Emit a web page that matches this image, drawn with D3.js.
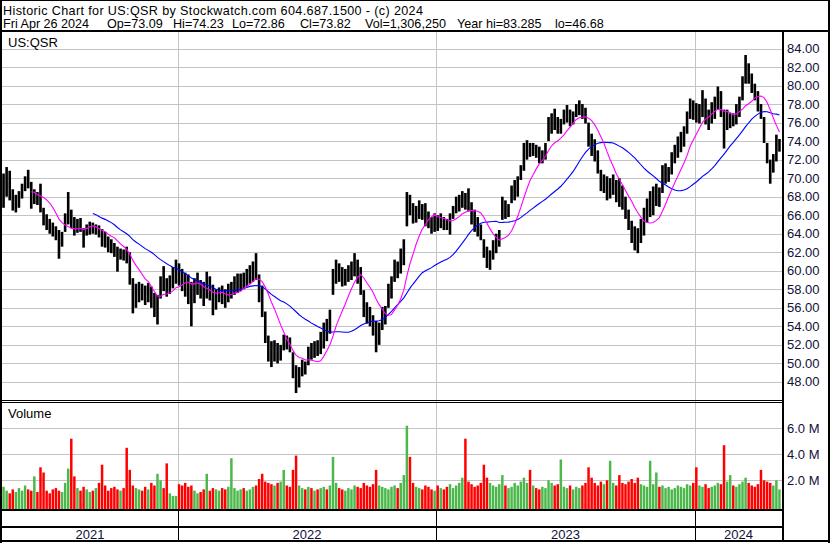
<!DOCTYPE html>
<html><head><meta charset="utf-8">
<script src="https://cdn.jsdelivr.net/npm/d3@7"></script>
<style>body{margin:0;background:#fff}svg{display:block}text{font-family:"Liberation Sans",Arial,sans-serif;font-size:13px}</style>
</head><body><svg id="c" width="830" height="543"></svg>
<script>
// ---- data (each point ~3 trading days) ----
const high=[70.5,71.2,70.8,68.8,68.2,68.6,69.4,70.2,70.9,69.6,
68.8,68.5,69.4,66.8,66.1,65.6,65.2,64.8,64.4,64.2,
66.2,68.5,66.6,65.8,65.6,65.7,64.6,65.0,65.3,65.2,
65.0,64.9,64.5,64.2,63.7,63.4,63.0,62.6,62.4,62.3,
62.6,62.0,59.2,58.6,58.8,58.6,58.4,58.7,58.3,57.6,
57.4,59.4,60.5,59.2,59.5,60.4,61.2,60.8,60.2,59.8,
59.6,58.8,59.2,59.8,59.0,58.8,59.9,59.4,58.5,58.0,
58.2,58.4,58.0,58.6,58.8,59.4,59.7,59.7,59.8,60.2,
60.6,61.0,61.9,59.6,58.4,55.6,53.0,52.4,52.5,52.2,
52.0,53.1,53.0,52.8,51.2,49.8,49.6,50.4,50.2,51.8,
52.2,52.4,52.5,53.4,54.4,54.8,55.8,60.2,61.2,60.8,
60.4,60.2,60.6,61.0,61.9,61.2,60.4,57.9,56.6,56.1,
55.2,54.6,54.4,56.1,56.2,58.6,59.4,61.2,61.0,62.4,
63.4,68.5,68.2,67.3,67.0,67.6,67.2,67.3,66.4,65.8,
66.2,66.0,66.2,65.8,65.6,66.2,67.0,68.0,68.2,68.6,
68.4,68.9,67.4,66.6,65.8,65.0,63.4,62.6,62.2,63.3,
64.0,64.4,68.0,67.6,67.2,69.2,69.8,70.2,71.4,73.8,
74.1,73.8,73.8,73.6,73.4,73.0,73.8,76.6,77.0,77.5,
76.6,76.4,77.4,77.9,77.4,77.2,78.0,78.4,78.0,77.6,
76.0,74.8,74.2,73.0,70.9,70.4,70.2,70.0,70.4,69.8,
70.0,69.2,68.0,66.6,65.4,64.8,64.6,65.6,66.8,67.8,
68.6,69.1,69.4,69.0,71.4,71.6,71.2,72.8,73.6,74.5,
75.0,75.6,77.2,78.6,78.4,78.1,78.0,79.5,78.6,77.4,
78.2,78.8,79.9,79.4,77.4,77.4,77.0,77.0,78.0,78.8,
81.0,83.3,82.4,81.3,80.2,79.4,78.0,76.6,73.8,72.0,
72.6,74.7,74.23];
const low=[66.8,68.0,67.6,66.5,66.3,66.8,67.8,68.6,68.9,66.7,
67.2,67.1,66.3,64.9,64.4,64.0,63.7,63.3,61.3,62.6,
64.2,65.0,64.6,63.8,64.1,64.2,62.5,63.8,63.9,64.0,
63.9,63.6,62.6,62.5,62.0,61.9,61.5,59.9,61.2,61.1,
60.8,58.5,55.4,56.0,56.6,56.8,56.3,56.6,56.0,55.0,
54.2,57.0,57.8,57.2,57.5,58.1,58.6,58.4,57.8,57.2,
56.4,54.0,56.5,57.4,57.0,56.2,57.0,56.8,55.2,55.8,
56.6,56.4,56.0,56.6,57.0,57.4,57.6,57.8,58.0,58.3,
58.6,58.8,59.0,56.6,55.0,52.2,50.2,49.6,50.2,50.0,
50.3,51.4,51.5,51.2,48.4,46.8,47.4,48.6,48.8,49.8,
50.4,50.6,50.8,51.0,51.6,52.4,53.2,57.4,58.6,58.8,
58.3,58.4,58.8,59.0,59.4,58.6,57.4,55.0,54.3,54.0,
53.0,51.2,52.0,53.6,54.2,56.0,57.0,58.8,59.2,59.7,
60.6,64.8,66.0,65.1,65.2,65.6,65.5,64.8,64.6,64.0,
64.2,64.3,64.6,64.4,64.4,63.9,65.6,66.2,66.4,66.8,
66.6,66.4,65.0,64.2,63.7,63.3,61.4,60.3,60.1,61.2,
61.9,62.6,65.5,65.6,65.8,67.3,67.6,68.0,69.8,70.8,
72.0,72.3,72.4,72.2,71.6,71.6,72.0,74.0,74.8,75.2,
74.8,74.8,75.8,76.0,75.6,75.8,76.6,76.8,76.4,75.9,
73.4,72.4,71.8,70.5,68.6,68.4,67.6,67.8,68.2,67.4,
66.9,66.6,65.6,64.4,63.0,62.2,61.9,63.0,63.8,65.2,
65.8,66.0,67.0,66.9,68.4,69.4,69.6,70.4,71.6,72.2,
72.8,73.4,74.8,76.4,76.3,76.0,75.9,76.6,75.8,75.2,
75.9,76.4,77.4,76.6,73.2,75.2,75.4,75.6,75.8,76.6,
78.4,80.2,80.2,79.2,78.4,77.2,76.4,73.8,71.6,69.4,
70.6,71.8,72.86];
const close=[68.5,70.3,68.2,67.0,67.6,68.0,69.0,69.8,69.4,67.5,
68.0,67.6,66.8,65.4,65.0,64.6,64.3,63.8,62.8,63.6,
65.5,66.0,65.0,64.6,65.2,64.8,63.4,64.6,64.9,64.5,
64.6,64.0,63.2,63.0,62.6,62.4,62.0,61.0,61.8,61.6,
61.4,59.0,56.4,57.6,58.0,57.4,57.0,58.1,56.8,55.8,
56.6,58.8,58.4,58.0,59.0,59.8,60.4,59.2,58.6,58.2,
57.5,56.8,58.4,58.9,57.8,57.0,58.5,57.6,56.2,57.2,
57.8,57.2,56.9,57.8,58.2,58.6,58.9,59.2,59.0,59.6,
60.0,60.4,59.6,57.4,55.6,52.8,51.2,50.6,51.6,51.0,
51.4,52.6,52.2,51.6,49.0,47.6,48.8,49.8,49.6,51.2,
51.0,51.8,51.4,52.6,53.8,53.6,55.2,59.4,60.2,59.6,
59.0,59.4,60.0,60.4,60.8,59.2,58.0,55.6,55.0,54.8,
53.6,52.2,53.8,55.4,55.8,57.8,58.8,60.6,60.0,61.8,
62.8,67.6,67.0,65.8,66.4,66.8,66.2,65.6,65.2,64.8,
65.6,65.0,65.8,65.2,64.9,65.6,66.6,67.4,67.6,67.8,
67.2,67.0,65.6,65.0,64.4,63.8,62.0,61.0,61.4,62.4,
63.4,64.0,67.2,66.4,66.8,68.6,69.0,69.6,71.0,72.8,
73.2,73.0,73.2,72.8,72.2,72.4,73.4,75.8,76.2,76.0,
75.4,75.8,76.8,77.0,76.4,76.6,77.4,77.6,77.0,76.2,
74.0,73.2,72.4,71.0,69.2,69.6,68.4,69.2,69.6,68.2,
67.8,67.4,66.2,65.0,63.6,63.0,62.6,64.6,65.4,66.6,
67.2,68.0,68.4,68.0,70.4,70.6,70.8,72.2,72.8,73.8,
74.4,75.0,76.6,77.8,77.2,76.8,77.2,78.6,76.4,76.0,
77.6,78.0,78.8,77.4,75.6,76.2,76.4,76.0,77.4,78.4,
80.4,81.6,81.0,80.0,79.2,77.8,76.8,74.4,72.2,70.4,
71.6,73.6,73.82];
// volume in millions
const volume=[1.5,1.2,1.0,1.3,1.1,1.4,1.2,1.6,1.3,1.2,
2.3,1.1,3.0,2.6,1.2,1.0,1.3,1.4,1.2,1.1,
1.8,2.9,5.2,2.3,1.4,1.2,1.5,1.3,1.1,1.2,
1.4,1.8,3.2,1.6,1.2,1.4,1.5,1.3,1.2,1.4,
4.5,2.8,1.6,1.4,1.3,1.2,1.5,1.3,1.8,1.6,
2.5,2.0,1.4,3.3,1.0,0.8,0.8,1.7,1.6,1.8,
1.5,1.6,1.2,1.0,1.1,1.3,2.5,1.2,1.4,1.3,
1.2,1.4,1.3,1.5,3.7,1.4,1.2,1.3,1.4,1.2,
1.3,1.5,1.6,2.1,2.5,1.9,1.8,1.7,1.6,1.8,
1.9,2.8,1.6,1.5,2.8,3.9,1.6,1.4,1.3,1.5,
1.4,1.2,1.3,1.4,1.5,1.3,1.6,3.8,1.8,1.4,
1.3,1.2,1.4,1.3,1.6,1.5,1.4,1.8,1.6,1.5,
1.7,2.8,1.6,1.5,1.4,1.3,1.5,1.6,1.4,1.8,
2.4,6.2,3.8,1.8,1.5,1.4,1.3,1.6,1.5,1.3,
1.2,1.6,1.4,1.3,1.5,1.7,1.4,1.6,1.8,2.2,
5.2,1.9,1.7,1.5,1.6,1.8,3.2,2.2,1.8,1.6,
1.5,1.7,2.4,1.6,1.4,1.5,1.8,1.6,1.9,2.2,
1.8,2.8,1.6,1.4,1.3,1.5,1.4,2.0,1.8,1.6,
1.7,3.6,1.5,1.4,1.6,1.3,1.5,1.4,1.6,1.8,
3.0,2.2,1.8,1.6,1.9,1.7,2.0,3.5,1.8,1.6,
2.4,1.8,1.7,1.9,2.1,1.8,2.2,1.7,1.6,1.5,
3.5,1.7,2.6,1.5,1.6,1.4,1.5,1.3,1.4,1.6,
1.5,1.4,1.7,1.6,1.8,3.0,1.6,1.5,1.7,1.4,
1.5,1.6,1.8,1.7,4.7,1.9,2.4,1.6,1.5,1.7,
1.9,2.2,1.8,1.6,1.5,1.7,2.8,2.0,1.9,1.8,
1.6,2.0,1.3];
const yearStarts=[57,141,225];            // first point index of 2022, 2023, 2024
const yearLabels=["2021","2022","2023","2024"];
const priceTicks=[84,82,80,78,76,74,72,70,68,66,64,62,60,58,56,54,52,50,48];
const volTicks=[2,4,6];
const maShort=10, maLong=30;             // in points (~30 and ~90 trading days)
const titleLine1="Historic Chart for US:QSR by Stockwatch.com 604.687.1500 - (c) 2024";
const titleLine2=["Fri Apr 26 2024","Op=73.09","Hi=74.23","Lo=72.86","Cl=73.82","Vol=1,306,250","Year hi=83.285","lo=46.68"];
const symbol="US:QSR";

// ---- drawing ----
const svg=d3.select("#c");
const N=high.length;
const x=d3.scaleLinear().domain([-0.5,N-0.5]).range([2,781]);
const y=d3.scaleLinear().domain([48,84]).range([381.9,48.5]);
const v=d3.scaleLinear().domain([0,6]).range([506.3,428.3]);
const grid="#c4c4c4", axisText="#10103a";

svg.append("rect").attr("width",830).attr("height",543).attr("fill","#fff");

// horizontal price grid
svg.append("g").selectAll("rect").data(priceTicks).join("rect")
 .attr("x",2).attr("width",780).attr("y",d=>Math.round(y(d))).attr("height",1).attr("fill",grid);
// volume grid
svg.append("g").selectAll("rect").data(volTicks).join("rect")
 .attr("x",2).attr("width",780).attr("y",d=>Math.round(v(d))).attr("height",1).attr("fill",grid);
// year separators (gray in panes)
const sepX=yearStarts.map(i=>Math.round(x(i-0.5)));
svg.append("g").selectAll("rect").data(sepX).join("rect")
 .attr("x",d=>d).attr("width",1).attr("y",32).attr("height",477).attr("fill",grid);

// moving averages
function sma(arr,n){return arr.map((_,i)=>i<n-1?null:d3.mean(arr.slice(i-n+1,i+1)));}
const ma1=sma(close,maShort), ma2=sma(close,maLong);

// price bars
const bars=svg.append("g");
bars.selectAll("rect").data(high).join("rect")
 .attr("x",(d,i)=>x(i)-1.3).attr("width",2.6)
 .attr("y",d=>y(d)).attr("height",(d,i)=>Math.max(1,y(low[i])-y(d)))
 .attr("fill","#000");

const line=d3.line().defined(d=>d!=null).x((d,i)=>x(i)).y(d=>y(d));
svg.append("path").attr("d",line(ma2)).attr("fill","none").attr("stroke","#0000ff").attr("stroke-width",1.1);
svg.append("path").attr("d",line(ma1)).attr("fill","none").attr("stroke","#ff00ff").attr("stroke-width",1.1);

// volume bars
svg.append("g").selectAll("rect").data(volume).join("rect")
 .attr("x",(d,i)=>x(i-0.5)+0.3).attr("width",x(1)-x(0)-0.6)
 .attr("y",d=>v(d)).attr("height",d=>509-v(d))
 .attr("fill",(d,i)=>i===0||close[i]>close[i-1]?"#4cb84c":(close[i]<close[i-1]?"#ff0000":"#a0a0a0"));

// frame lines
const blk=(x0,y0,w,h)=>svg.append("rect").attr("x",x0).attr("y",y0).attr("width",w).attr("height",h).attr("fill","#000");
blk(0,0,830,1);       // top
blk(0,0,2,543);       // left
blk(828,0,2,543);     // right
blk(0,540,830,2);     // bottom
blk(0,30,830,2);      // under title
blk(782,30,2,512);    // axis separator
blk(0,400,782,1); blk(0,402,782,1);   // between panes
blk(0,509,782,2);     // below volume
blk(0,526,782,2);     // above year labels
svg.append("g").selectAll("rect").data(sepX).join("rect")
 .attr("x",d=>d).attr("width",1).attr("y",511).attr("height",29).attr("fill","#000");

// texts
svg.append("text").attr("x",3).attr("y",14.5).style("font-size","12.6px")
 .attr("textLength",420).attr("lengthAdjust","spacing").text(titleLine1);
const l2x=[3,107,173,232,300,365,457,555];
svg.append("g").selectAll("text").data(titleLine2).join("text")
 .attr("x",(d,i)=>l2x[i]).attr("y",28).style("font-size","12.6px").text(d=>d);
svg.append("text").attr("x",8).attr("y",46.5).text(symbol);
svg.append("text").attr("x",8).attr("y",418).text("Volume");

svg.append("g").selectAll("text").data(priceTicks).join("text")
 .attr("x",787).attr("y",d=>y(d)+4.5).attr("fill",axisText).text(d=>d.toFixed(2));
svg.append("g").selectAll("text").data(volTicks).join("text")
 .attr("x",787).attr("y",d=>v(d)+4.5).attr("fill",axisText).text(d=>d.toFixed(1)+" M");

const bounds=[2,...sepX,782];
svg.append("g").selectAll("text").data(yearLabels).join("text")
 .attr("x",(d,i)=>(bounds[i]+bounds[i+1])/2).attr("y",539).attr("text-anchor","middle")
 .attr("fill",axisText).text(d=>d);
</script></body></html>
